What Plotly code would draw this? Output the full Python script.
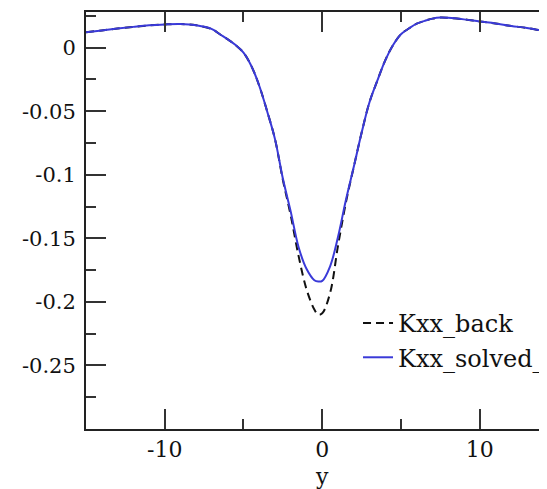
import plotly.graph_objects as go

# --- Data ---
y_pos = [-15, -14, -13, -12, -11, -10, -9, -8, -7, -6.5, -6, -5.5, -5, -4.5, -4,
         -3.5, -3, -2.5, -2, -1.5, -1, -0.5, -0.25, 0, 0.5, 1, 1.5, 2, 2.5, 3,
         3.5, 4, 4.5, 5, 5.5, 6, 6.5, 7, 7.5, 8, 9, 10, 11, 12, 13, 14, 15]

kxx_solved = [0.012, 0.0135, 0.015, 0.0163, 0.0175, 0.0182, 0.0185, 0.0175, 0.0145,
              0.0105, 0.0065, 0.002, -0.004, -0.0145, -0.030, -0.050, -0.072, -0.103,
              -0.129, -0.157, -0.174, -0.183, -0.184, -0.1835, -0.172, -0.149, -0.120,
              -0.094, -0.067, -0.043, -0.026, -0.010, 0.002, 0.0105, 0.015, 0.0188,
              0.021, 0.0228, 0.0236, 0.0234, 0.0222, 0.0205, 0.019, 0.017, 0.0155,
              0.0133, 0.012]

kxx_back = [0.012, 0.0135, 0.015, 0.0163, 0.0175, 0.0182, 0.0185, 0.0175, 0.0145,
            0.0105, 0.0065, 0.002, -0.004, -0.0145, -0.030, -0.050, -0.072, -0.104,
            -0.132, -0.164, -0.190, -0.206, -0.210, -0.209, -0.193, -0.156, -0.122,
            -0.094, -0.067, -0.043, -0.026, -0.010, 0.002, 0.0105, 0.015, 0.0188,
            0.021, 0.0228, 0.0236, 0.0234, 0.0222, 0.0205, 0.019, 0.017, 0.0155,
            0.0133, 0.012]

x_tick_vals = [-10, 0, 10]
x_tick_text = ["-10", "0", "10"]
y_tick_vals = [0, -0.05, -0.1, -0.15, -0.2, -0.25]
y_tick_text = ["0", "-0.05", "-0.1", "-0.15", "-0.2", "-0.25"]

serif = "DejaVu Serif"
axis_col = "#222"

fig = go.Figure()
fig.add_trace(go.Scatter(x=y_pos, y=kxx_back, mode="lines", name="Kxx_back",
                         line=dict(color="#111", width=2, dash="8px,5px", shape="spline")))
fig.add_trace(go.Scatter(x=y_pos, y=kxx_solved, mode="lines", name="Kxx_solved_",
                         line=dict(color="#3a3ad8", width=2, shape="spline")))
# empty trace so the right-hand tick axis gets drawn
fig.add_trace(go.Scatter(x=[], y=[], yaxis="y2", showlegend=False, hoverinfo="skip"))

# the page body has an 8px margin, so the frame is set 8px up/left and runs past the window
fig.update_layout(
    width=547, height=489,
    font=dict(family=serif, color="#111"),
    margin=dict(l=78, r=0, t=4, b=68, autoexpand=False),
    paper_bgcolor="white", plot_bgcolor="white",
    showlegend=True,
    legend=dict(x=0.58, y=0.307, xanchor="left", yanchor="top",
                bgcolor="rgba(0,0,0,0)", font=dict(family=serif, size=24, color="#111"),
                tracegroupgap=0),
    xaxis=dict(range=[-15, 14.78], tickmode="array", tickvals=x_tick_vals, ticktext=x_tick_text,
               ticks="inside", ticklen=20, tickwidth=2, tickcolor="#333",
               minor=dict(tickmode="linear", tick0=0, dtick=5, ticks="inside", ticklen=10,
                          tickwidth=2, tickcolor="#333"),
               showline=True, linewidth=2, linecolor=axis_col, mirror="ticks",
               showgrid=False, zeroline=False, automargin=False,
               tickfont=dict(family=serif, size=22, color="#111")),
    yaxis=dict(range=[-0.3, 0.028], tickmode="array", tickvals=y_tick_vals, ticktext=y_tick_text,
               ticks="inside", ticklen=20, tickwidth=2, tickcolor="#333",
               minor=dict(tickmode="linear", tick0=0, dtick=0.025, ticks="inside", ticklen=10,
                          tickwidth=2, tickcolor="#333"),
               showline=True, linewidth=2, linecolor=axis_col, mirror=False,
               showgrid=False, zeroline=False, automargin=False, ticklabelstandoff=4,
               tickfont=dict(family=serif, size=21, color="#111")),
    yaxis2=dict(range=[-0.3, 0.028], overlaying="y", side="right", tickmode="array",
                tickvals=y_tick_vals, showticklabels=False, automargin=False,
                ticks="inside", ticklen=9, tickwidth=2, tickcolor="#333",
                showline=False, showgrid=False, zeroline=False),
    annotations=[dict(text="y", x=0, xref="x", y=-0.113, yref="paper", yanchor="middle",
                      showarrow=False, font=dict(family=serif, size=22, color="#111"))],
)

fig.write_html("out.html")
